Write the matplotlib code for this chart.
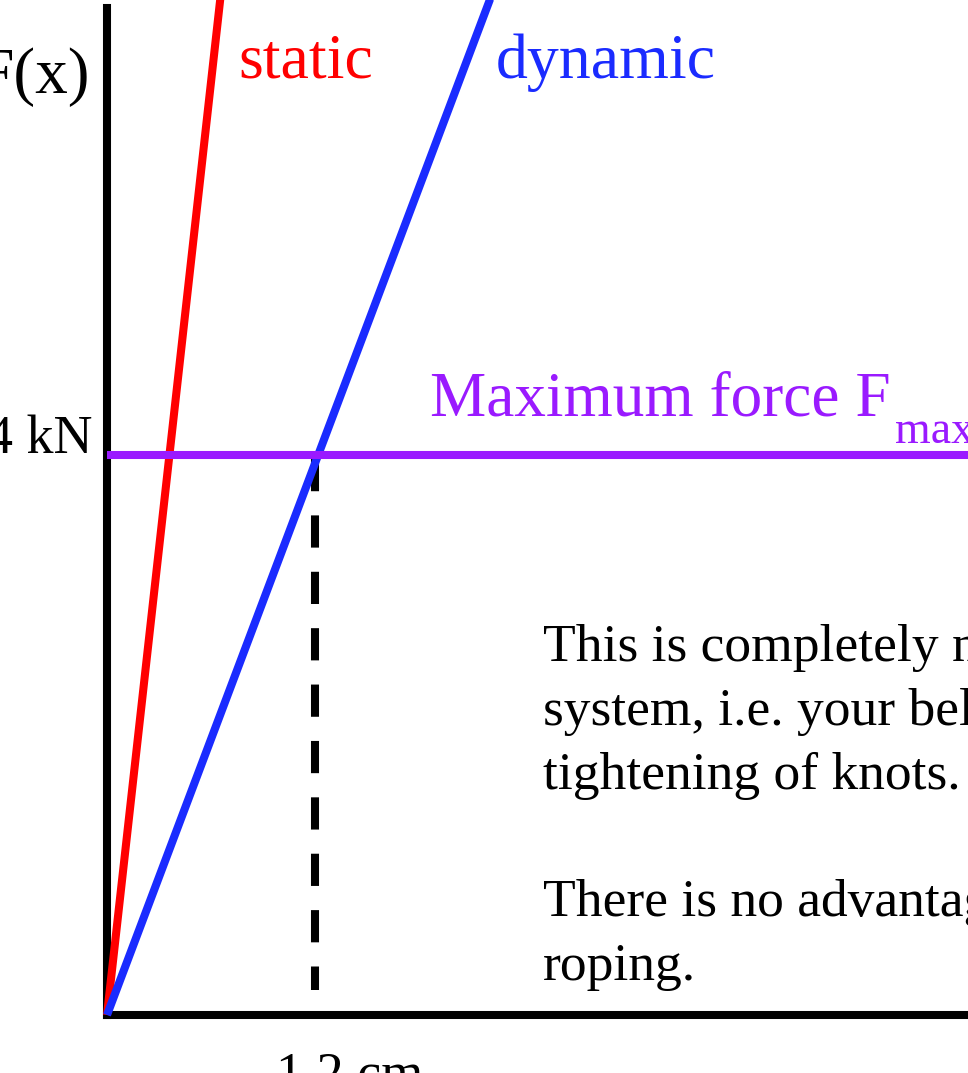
#!/usr/bin/env python3
# -*- coding: utf-8 -*-
"""
Force vs. stretch sketch: static vs dynamic rope, with the maximum force line.
"""
import matplotlib.pyplot as plt
import matplotlib as mpl

# Data (x in cm of stretch, y in kN)
static_x = [0.0, 0.68]
static_y = [0.0, 7.55]
dynamic_x = [0.0, 2.30]
dynamic_y = [0.0, 7.55]
f_max = 4.0
x_at_fmax = 1.2
body_lines = [
    'This is completely negated by the',
    'system, i.e. your belayer, and',
    'tightening of knots.',
    '',
    'There is no advantage in static',
    'roping.',
]

mpl.rcParams['font.family'] = 'Liberation Serif'

W, H = 968, 1073
fig = plt.figure(figsize=(W / 100, H / 100), dpi=100)

# axes placed in pixel terms: origin at (107, 1015), top of y-axis at 8
x0, y0, ytop = 107, 1015, 8
ax = fig.add_axes([x0 / W, (H - y0) / H, (W - x0) / W + 0.01, (y0 - ytop) / H])
px_per_cm = 173.3
px_per_kN = 140.0
ax.set_xlim(0, (W - x0) / px_per_cm + 0.01 * W / px_per_cm)
ax.set_ylim(0, (y0 - ytop) / px_per_kN)

for s in ['top', 'right']:
    ax.spines[s].set_visible(False)
for s in ['left', 'bottom']:
    ax.spines[s].set_linewidth(5.8)
    ax.spines[s].set_color('black')
    ax.spines[s].set_capstyle('projecting')
ax.set_xticks([])
ax.set_yticks([])

red = '#FF0000'
blue = '#1A2BFF'
purple = '#9A1AFF'

ax.plot(static_x, static_y, color=red, lw=5.8, clip_on=False, zorder=4,
        solid_capstyle='butt')
ax.plot(dynamic_x, dynamic_y, color=blue, lw=5.8, clip_on=False, zorder=4,
        solid_capstyle='butt')
ax.axhline(f_max, color=purple, lw=5.8, zorder=5)
ax.plot([x_at_fmax, x_at_fmax], [f_max - 0.03, 0.18], color='black', lw=5.8,
        linestyle=(0, (4.0, 3.0)), zorder=3)


def px(xp, yp):
    return (xp - x0) / px_per_cm, (y0 - yp) / px_per_kN


kw = dict(clip_on=False, va='baseline')
ax.text(*px(90, 93), 'F(x)', ha='right', fontsize=47, **kw)
ax.text(*px(238, 78), 'static', ha='left', fontsize=46, color=red, **kw)
ax.text(*px(496, 78), 'dynamic', ha='left', fontsize=46, color=blue, **kw)
fmax_txt = ax.text(*px(430, 415), 'Maximum force F', ha='left',
                   fontsize=45.5, color=purple, **kw)
# subscript "max" placed right after the F
renderer = fig.canvas.get_renderer()
bb = fmax_txt.get_window_extent(renderer)
ax.text(*px(bb.x1 + 4, 443), 'max', ha='left', fontsize=33, color=purple, **kw)

ax.text(*px(92, 453), '4 kN', ha='right', fontsize=39, **kw)
ax.text(*px(276, 1089), '1.2 cm', ha='left', fontsize=39, **kw)

# body text, one line per baseline (64 px apart)
for i, line in enumerate(body_lines):
    if line:
        ax.text(*px(543, 661 + 63.8 * i), line, ha='left', fontsize=38.5, **kw)

fig.savefig('out.png', dpi=100, facecolor='white')
